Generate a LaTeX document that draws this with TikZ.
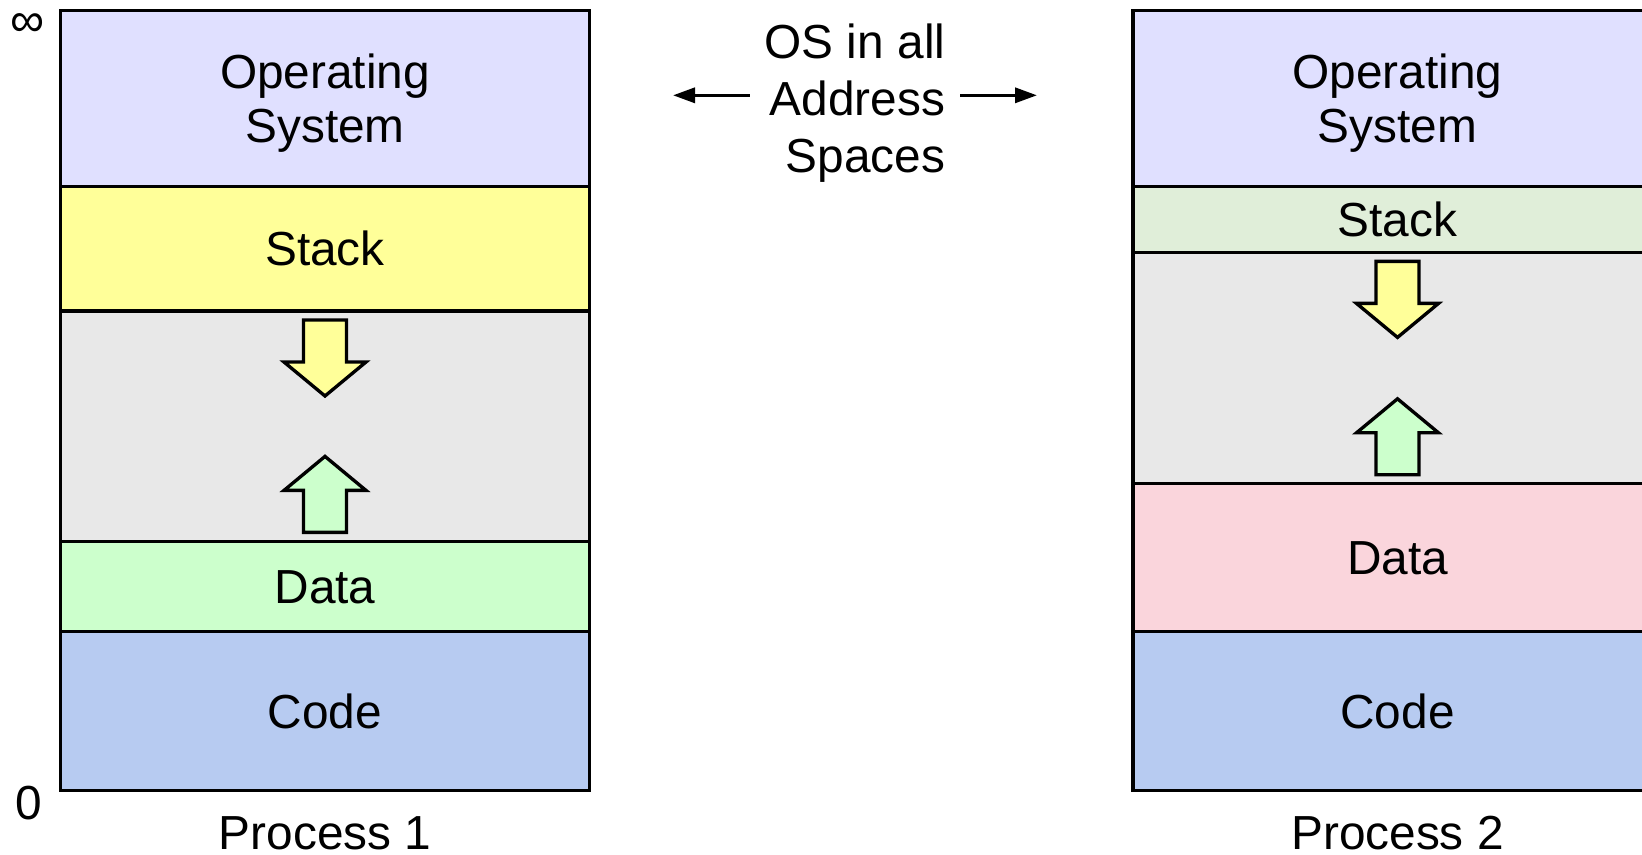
\documentclass[tikz,border=0pt]{standalone}
\usepackage{fontspec}
\setmainfont{Liberation Sans}
\usetikzlibrary{positioning,arrows.meta}
\definecolor{osfill}{HTML}{E0E0FF}
\definecolor{stackyel}{HTML}{FFFF99}
\definecolor{gapgray}{HTML}{E8E8E8}
\definecolor{datagreen}{HTML}{CCFFCC}
\definecolor{codeblue}{HTML}{B7CBF1}
\definecolor{stackgreen}{HTML}{E0EED9}
\definecolor{datapink}{HTML}{FAD5DC}
\newcommand{\growdown}[2]{\filldraw[fill=#2, blk] (#1) ++(-0.215,0) -- ++(0.43,0) -- ++(0,-0.42) -- ++(0.195,0) -- ++(-0.41,-0.34) -- ++(-0.41,0.34) -- ++(0.195,0) -- cycle;}
\newcommand{\growup}[2]{\filldraw[fill=#2, blk] (#1) ++(-0.215,0) -- ++(0.43,0) -- ++(0,0.42) -- ++(0.195,0) -- ++(-0.41,0.34) -- ++(-0.41,-0.34) -- ++(0.195,0) -- cycle;}
\begin{document}
\begin{tikzpicture}[font=\fontsize{13.6}{15.3}\selectfont,
	seg/.style={draw, line width=0.95pt, minimum width=5.29cm, inner sep=0pt, outer sep=0pt, align=center, text height=0.342cm, text depth=0cm},
	twoline/.style={text height=0.879cm},
	blk/.style={line width=0.95pt, miter limit=10},
	conn/.style={line width=0.95pt, -{Triangle[length=0.22cm, width=0.15cm]}}]
	\useasboundingbox (0,0) rectangle (16.42,-8.54);
	\clip (0,0) rectangle (16.42,-8.54);
	\node[seg, twoline, fill=osfill, minimum height=1.759cm, anchor=north west] (os1) at (0.605,-0.105) {Operating\\System};
	\node[seg, fill=stackyel, minimum height=1.246cm, below=0pt of os1] (stack1) {Stack};
	\node[seg, fill=gapgray, minimum height=2.304cm, below=0pt of stack1] (gap1) {};
	\node[seg, fill=datagreen, minimum height=0.901cm, below=0pt of gap1] (data1) {Data};
	\node[seg, fill=codeblue, minimum height=1.591cm, below=0pt of data1] (code1) {Code};
	\growdown{[yshift=-0.09cm]gap1.north}{stackyel}
	\growup{[yshift=0.09cm]gap1.south}{datagreen}
	\node[seg, twoline, fill=osfill, minimum height=1.759cm, anchor=north west] (os2) at (11.33,-0.105) {Operating\\System};
	\node[seg, fill=stackgreen, minimum height=0.66cm, below=0pt of os2] (stack2) {Stack};
	\node[seg, fill=gapgray, minimum height=2.314cm, below=0pt of stack2] (gap2) {};
	\node[seg, fill=datapink, minimum height=1.477cm, below=0pt of gap2] (data2) {Data};
	\node[seg, fill=codeblue, minimum height=1.591cm, below=0pt of data2] (code2) {Code};
	\growdown{[yshift=-0.09cm]gap2.north}{stackyel}
	\growup{[yshift=0.09cm]gap2.south}{datagreen}
	\node[below=0.23cm of code1, inner sep=0.02cm, text depth=0pt] (proc1) {Process 1};
	\node[below=0.23cm of code2, inner sep=0.02cm, text depth=0pt] (proc2) {Process 2};
	\node (top) at (0.275,-0.25) {∞};
	\node (bottom) at (0.29,-8.035) {0};
	\node[align=right, inner sep=0.14cm, anchor=east, font=\fontsize{13.6}{16.2}\selectfont] (shared) at (9.6,-1.03) {OS in all\\Address\\Spaces};
	\coordinate (toleft) at (6.73,-0.953);
	\coordinate (toright) at (10.37,-0.953);
	\draw[conn] (shared.west |- toleft) -- (toleft);
	\draw[conn] (shared.east |- toright) -- (toright);
\end{tikzpicture}
\end{document}
